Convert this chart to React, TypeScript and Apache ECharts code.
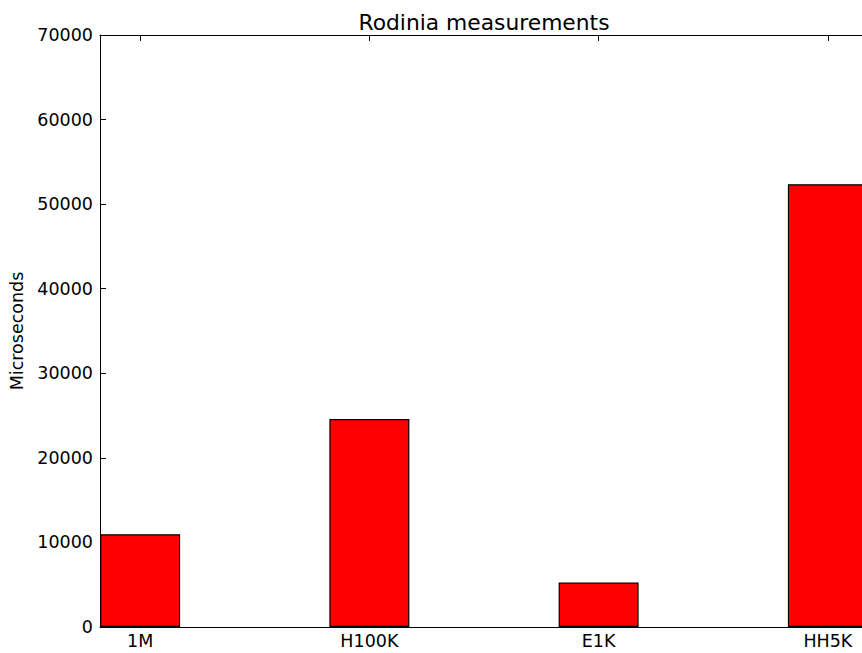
import React, { useEffect, useRef } from "react";
import * as echarts from "echarts";

const categories = ["1M", "H100K", "E1K", "HH5K"];
const values = [10970, 24580, 5250, 52350];
const yTicks = [0, 10000, 20000, 30000, 40000, 50000, 60000, 70000];
const titleText = "Rodinia measurements";
const yName = "Microseconds";

const BAR = 0.35;

export default function App() {
  const ref = useRef<HTMLDivElement>(null);
  useEffect(() => {
    if (!ref.current) return;
    const chart = echarts.init(ref.current, undefined, { renderer: "svg" });
    const centers = categories.map((_, i) => i + BAR / 2);
    const font = "DejaVu Sans";
    const xBase = {
      type: "value" as const,
      min: 0,
      max: categories.length - 1 + BAR,
      splitLine: { show: false },
      axisLine: { show: true, onZero: false, lineStyle: { color: "#000", width: 1 } },
      axisTick: { show: true, inside: true, length: 6, customValues: centers, lineStyle: { color: "#000" } },
    };
    const yBase = {
      type: "value" as const,
      min: 0,
      max: 70000,
      interval: 10000,
      splitLine: { show: false },
      axisLine: { show: true, onZero: false, lineStyle: { color: "#000", width: 1 } },
      axisTick: { show: true, inside: true, length: 6, lineStyle: { color: "#000" } },
    };
    chart.setOption({
      animation: false,
      backgroundColor: "#fff",
      title: {
        text: titleText,
        left: 479,
        top: 6,
        textAlign: "center",
        textStyle: { fontFamily: font, fontSize: 21.8, fontWeight: "normal", color: "#000" },
      },
      grid: { left: 100, top: 35, width: 768, height: 592, containLabel: false, outerBoundsMode: "none" },
      xAxis: [
        {
          ...xBase,
          position: "bottom",
          axisLabel: {
            show: true,
            customValues: centers,
            margin: 5,
            color: "#000",
            fontFamily: font,
            fontSize: 17.5,
            formatter: (v: number) => {
              const i = Math.round(v - BAR / 2);
              return categories[i] ?? "";
            },
          },
        },
        { ...xBase, position: "top", axisLabel: { show: false } },
      ],
      yAxis: [
        {
          ...yBase,
          position: "left",
          name: yName,
          nameLocation: "middle",
          nameGap: 70,
          nameTextStyle: { fontFamily: font, fontSize: 17.5, color: "#000" },
          axisLabel: {
            show: true,
            margin: 7,
            color: "#000",
            fontFamily: font,
            fontSize: 17.5,
            formatter: (v: number) => (yTicks.includes(v) ? String(v) : ""),
          },
        },
        { ...yBase, position: "right", axisLabel: { show: false } },
      ],
      series: [
        {
          type: "bar",
          xAxisIndex: 0,
          yAxisIndex: 0,
          barWidth: 80,
          data: values.map((v, i) => [centers[i], v]),
          itemStyle: { color: "#ff0000", borderColor: "#000", borderWidth: 1.2 },
        },
      ],
    });
    return () => chart.dispose();
  }, []);
  return <div ref={ref} style={{ width: 862, height: 653, position: "absolute", left: 0, top: 0 }} />;
}
